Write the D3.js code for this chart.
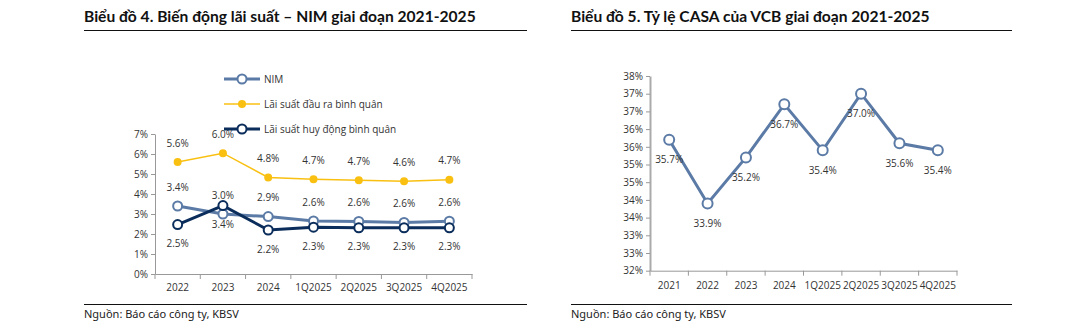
<!DOCTYPE html>
<html>
<head>
<meta charset="utf-8">
<script src="https://cdn.jsdelivr.net/npm/d3@7"></script>
<style>
  body { margin: 0; background: #fff; }
  svg { display: block; }
  .title { font-family: Lato, "Noto Sans", sans-serif; font-weight: bold; font-size: 15.6px; fill: #111; }
  .src { font-family: "Noto Sans", sans-serif; font-size: 11px; fill: #222; }
  .tick text { font-family: "Open Sans", sans-serif; font-size: 10px; fill: #333; }
  .lbl { font-family: "Open Sans", sans-serif; font-size: 10px; fill: #333; }
  .leg { font-family: "Open Sans", sans-serif; font-size: 10px; fill: #333; }
</style>
</head>
<body>
<script>
// chart 4 data
var periods4 = ['2022', '2023', '2024', '1Q2025', '2Q2025', '3Q2025', '4Q2025'];
var nim = [3.4, 3.0, 2.87, 2.65, 2.63, 2.58, 2.64];
var yieldRate = [5.6, 6.04, 4.83, 4.74, 4.69, 4.64, 4.71];
var fundRate = [2.47, 3.42, 2.2, 2.34, 2.31, 2.31, 2.31];
var ticks4 = [0, 1, 2, 3, 4, 5, 6, 7];

// chart 5 data
var periods5 = ['2021', '2022', '2023', '2024', '1Q2025', '2Q2025', '3Q2025', '4Q2025'];
var casa = [35.7, 33.9, 35.2, 36.7, 35.4, 37.0, 35.6, 35.4];
var ticks5 = [32, 32.5, 33, 33.5, 34, 34.5, 35, 35.5, 36, 36.5, 37, 37.5];

var svg = d3.select('body').append('svg').attr('width', 1088).attr('height', 332);

function frame(x0, x1, title) {
    svg.append('text').attr('class', 'title').attr('x', x0).attr('y', 22).text(title);
    svg.append('line').attr('x1', x0).attr('x2', x1).attr('y1', 30.5).attr('y2', 30.5)
        .attr('stroke', '#111').attr('stroke-width', 1.2);
    svg.append('line').attr('x1', x0).attr('x2', x1).attr('y1', 304.5).attr('y2', 304.5)
        .attr('stroke', '#111').attr('stroke-width', 1.2);
    svg.append('text').attr('class', 'src').attr('x', x0).attr('y', 318).text('Nguồn: Báo cáo công ty, KBSV');
}

frame(84, 527, 'Biểu đồ 4. Biến động lãi suất – NIM giai đoạn 2021-2025');
frame(571, 1012, 'Biểu đồ 5. Tỷ lệ CASA của VCB giai đoạn 2021-2025');

function bandTicks(g, x, y0) {
    var edges = x.domain().map(d => x(d)).concat([x.range()[1]]);
    g.selectAll('.bt').data(edges).enter().append('line')
        .attr('x1', d => d).attr('x2', d => d)
        .attr('y1', y0).attr('y2', y0 + 5)
        .attr('stroke', '#999');
}

// ---------- chart 4 ----------
var x4 = d3.scaleBand().domain(periods4).range([155, 472]);
var y4 = d3.scaleLinear().domain([0, 7]).range([274, 134]);
var c4 = svg.append('g');

c4.append('g').attr('transform', 'translate(155,0)')
    .call(d3.axisLeft(y4).tickValues(ticks4).tickFormat(d => d + '%').tickSize(4).tickSizeOuter(0))
    .call(g => g.select('.domain').attr('stroke', '#999'))
    .call(g => g.selectAll('.tick line').attr('stroke', '#999'));
c4.append('g').attr('transform', 'translate(0,274)')
    .call(d3.axisBottom(x4).tickSize(0).tickPadding(10))
    .call(g => g.select('.domain').attr('stroke', '#999'));
bandTicks(c4, x4, 274);

var cx4 = d => x4(d) + x4.bandwidth() / 2;

var series4 = [
    { name: 'NIM', values: nim, color: '#5b7ba6', width: 3, fill: '#fff', r: 4.5, sw: 2, lblDy: -19 },
    { name: 'Lãi suất đầu ra bình quân', values: yieldRate, color: '#f9c012', width: 1.5, fill: '#f9c012', r: 4, sw: 0, lblDy: -19 },
    { name: 'Lãi suất huy động bình quân', values: fundRate, color: '#0b2d5b', width: 3, fill: '#fff', r: 4.5, sw: 2, lblDy: 19 }
];

var line4 = d3.line().x((d, i) => cx4(periods4[i])).y(d => y4(d));

series4.forEach(function (s) {
    c4.append('path').datum(s.values).attr('d', line4)
        .attr('fill', 'none').attr('stroke', s.color).attr('stroke-width', s.width);
    c4.selectAll(null).data(s.values).enter().append('circle')
        .attr('cx', (d, i) => cx4(periods4[i])).attr('cy', d => y4(d)).attr('r', s.r)
        .attr('fill', s.fill).attr('stroke', s.color).attr('stroke-width', s.sw);
});
series4.forEach(function (s) {
    c4.selectAll(null).data(s.values).enter().append('text')
        .attr('class', 'lbl').attr('text-anchor', 'middle')
        .attr('x', (d, i) => cx4(periods4[i])).attr('y', d => y4(d) + s.lblDy)
        .attr('dy', '0.35em')
        .text(d => d.toFixed(1) + '%');
});

// legend
var leg = c4.selectAll('.legrow').data(series4).enter().append('g')
    .attr('transform', (d, i) => 'translate(224,' + (79 + i * 25) + ')');
leg.append('line').attr('x1', 0).attr('x2', 36).attr('stroke', d => d.color).attr('stroke-width', d => d.width);
leg.append('circle').attr('cx', 18).attr('r', d => d.r).attr('fill', d => d.fill)
    .attr('stroke', d => d.color).attr('stroke-width', d => d.sw);
leg.append('text').attr('class', 'leg').attr('x', 40).attr('dy', '0.35em').text(d => d.name);

// ---------- chart 5 ----------
var x5 = d3.scaleBand().domain(periods5).range([650, 957]);
var y5 = d3.scaleLinear().domain([32, 37.5]).range([270.7, 76]);
var c5 = svg.append('g');

c5.append('g').attr('transform', 'translate(650,0)')
    .call(d3.axisLeft(y5).tickValues(ticks5).tickFormat(d => Math.round(d) + '%').tickSize(4).tickSizeOuter(0))
    .call(g => g.select('.domain').attr('stroke', '#aaa').attr('stroke-width', 2))
    .call(g => g.selectAll('.tick line').attr('stroke', '#999'));
c5.append('g').attr('transform', 'translate(0,270.7)')
    .call(d3.axisBottom(x5).tickSize(0).tickPadding(11))
    .call(g => g.select('.domain').attr('stroke', '#999'));
bandTicks(c5, x5, 270.7);

var cx5 = d => x5(d) + x5.bandwidth() / 2;
var line5 = d3.line().x((d, i) => cx5(periods5[i])).y(d => y5(d));

c5.append('path').datum(casa).attr('d', line5)
    .attr('fill', 'none').attr('stroke', '#5b7ba6').attr('stroke-width', 3);
c5.selectAll(null).data(casa).enter().append('circle')
    .attr('cx', (d, i) => cx5(periods5[i])).attr('cy', d => y5(d)).attr('r', 5)
    .attr('fill', '#fff').attr('stroke', '#5b7ba6').attr('stroke-width', 2);
c5.selectAll(null).data(casa).enter().append('text')
    .attr('class', 'lbl').attr('text-anchor', 'middle')
    .attr('x', (d, i) => cx5(periods5[i])).attr('y', d => y5(d) + 20)
    .attr('dy', '0.35em')
    .text(d => d.toFixed(1) + '%');
</script>
</body>
</html>
